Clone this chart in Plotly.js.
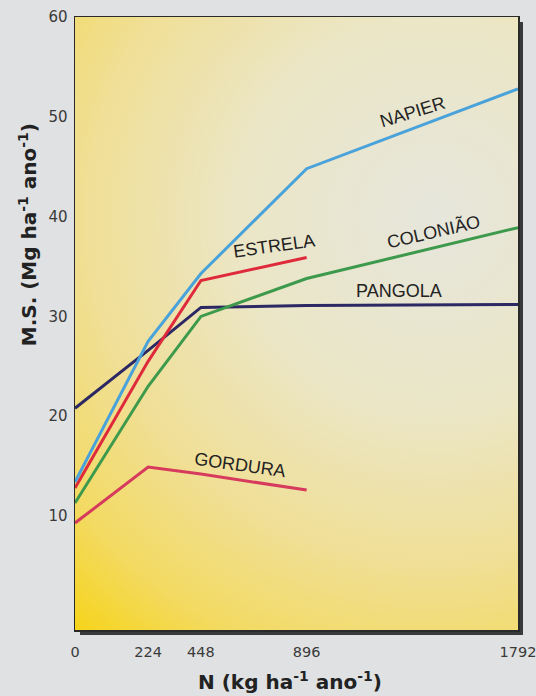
<!DOCTYPE html>
<html>
<head>
<meta charset="utf-8">
<script src="https://cdn.plot.ly/plotly-3.0.1.min.js"></script>
<style>
  html, body { margin: 0; padding: 0; background: #dfe1e2; }
  #chart { width: 536px; height: 696px; }
</style>
</head>
<body>
<div id="chart"></div>
<script>
// ---- data ----
const N_VALUES = [0, 224, 448, 896, 1792];
const X_TICK_LABELS = ['0', '224', '448', '896', '1792'];
const Y_TICKS = [10, 20, 30, 40, 50, 60];

const napier   = [13.4, 27.5, 34.3, 44.8, 52.8];
const estrela  = [12.8, 25.5, 33.6, 35.9];
const coloniao = [11.3, 23.0, 30.0, 33.8, 38.9];
const pangola  = [20.8, 26.6, 30.9, 31.1, 31.2];
const gordura  = [9.3, 14.9, 14.2, 12.6];

// The printed N axis stretches the 0–224 interval: 0 sits further left than a linear scale puts it.
const ORIGIN_AT = -86;
const xAt = n => (n === 0 ? ORIGIN_AT : n);
const xs = arr => N_VALUES.slice(0, arr.length).map(xAt);

const FONT = 'Liberation Sans, Arial, Helvetica, sans-serif';
const WIDE = 'DejaVu Sans, Verdana, sans-serif';

function series(name, y, color) {
  return { type: 'scatter', mode: 'lines', name: name, x: xs(y), y: y,
           line: { color: color, width: 3 }, hoverinfo: 'skip', showlegend: false };
}

const traces = [
  series('PANGOLA', pangola, '#2b2863'),
  series('COLONIÃO', coloniao, '#3d9a4c'),
  series('GORDURA', gordura, '#d63a5c'),
  series('ESTRELA', estrela, '#df2a3c'),
  series('NAPIER', napier, '#4aa2da')
];

// background panel with yellow glow and a drop shadow (decoration only)
const PW = 443, PH = 613, SH = 5;
const svg =
  '<svg xmlns="http://www.w3.org/2000/svg" width="' + (PW + SH) + '" height="' + (PH + SH) +
  '" viewBox="0 0 ' + (PW + SH) + ' ' + (PH + SH) + '" preserveAspectRatio="none">' +
  '<defs><radialGradient id="g" gradientUnits="userSpaceOnUse" cx="360" cy="200" r="560">' +
  '<stop offset="0" stop-color="#e6e6dc"/>' +
  '<stop offset="0.35" stop-color="#ebe6c6"/>' +
  '<stop offset="0.62" stop-color="#f0df96"/>' +
  '<stop offset="0.82" stop-color="#f3da62"/>' +
  '<stop offset="1" stop-color="#f6d310"/>' +
  '</radialGradient></defs>' +
  '<rect x="' + SH + '" y="' + SH + '" width="' + PW + '" height="' + PH + '" fill="#3a3a3a"/>' +
  '<rect x="0" y="0" width="' + PW + '" height="' + PH + '" fill="url(#g)"/>' +
  '</svg>';

const labelFont = { family: FONT, size: 18, color: '#222' };
function lineLabel(text, x, y, angle) {
  return { text: text, x: x, y: y, xref: 'x', yref: 'y', showarrow: false,
           xanchor: 'center', yanchor: 'middle', textangle: angle, font: labelFont };
}

const layout = {
  width: 536, height: 696,
  margin: { l: 75, r: 18, t: 17, b: 66 },
  paper_bgcolor: '#dfe1e2',
  plot_bgcolor: 'rgba(0,0,0,0)',
  font: { family: FONT, color: '#333' },
  xaxis: {
    range: [ORIGIN_AT, 1792],
    tickvals: N_VALUES.map(xAt), ticktext: X_TICK_LABELS,
    showgrid: false, zeroline: false, ticks: '',
    showline: true, mirror: true, linecolor: '#2a2a2a', linewidth: 1.5,
    tickfont: { family: WIDE, size: 14.5, color: '#3a3a3a' },
    ticklabelstandoff: 8,
    ticklabeloverflow: 'allow'
  },
  yaxis: {
    range: [-1.42, 60.0],
    tickvals: Y_TICKS, ticktext: Y_TICKS.map(String),
    showgrid: false, zeroline: false, ticks: '',
    showline: true, mirror: true, linecolor: '#2a2a2a', linewidth: 1.5,
    tickfont: { family: WIDE, size: 15, color: '#3a3a3a' },
    ticklabelstandoff: 3
  },
  images: [{
    source: 'data:image/svg+xml;charset=utf-8,' + encodeURIComponent(svg),
    xref: 'paper', yref: 'paper', x: 0, y: 1,
    sizex: (PW + SH) / PW, sizey: (PH + SH) / PH,
    xanchor: 'left', yanchor: 'top', sizing: 'stretch', layer: 'below'
  }],
  annotations: [
    lineLabel('NAPIER', 1346, 50.5, -17),
    lineLabel('COLONIÃO', 1435, 38.5, -13),
    lineLabel('PANGOLA', 1286, 32.5, 0),
    lineLabel('ESTRELA', 759, 37.1, -8),
    lineLabel('GORDURA', 615, 15.1, 8),
    { text: 'N (kg ha<sup>-1</sup> ano<sup>-1</sup>)', xref: 'paper', yref: 'paper',
      x: 0.485, y: -0.083, xanchor: 'center', yanchor: 'middle', showarrow: false,
      font: { family: WIDE, size: 20, color: '#222', weight: 'bold' } },
    { text: 'M.S. (Mg ha<sup>-1</sup> ano<sup>-1</sup>)', xref: 'paper', yref: 'paper',
      x: -0.106, y: 0.644, xanchor: 'center', yanchor: 'middle', showarrow: false,
      textangle: -90,
      font: { family: WIDE, size: 20, color: '#222', weight: 'bold' } }
  ]
};

Plotly.newPlot('chart', traces, layout, { displayModeBar: false, staticPlot: true });
</script>
</body>
</html>
